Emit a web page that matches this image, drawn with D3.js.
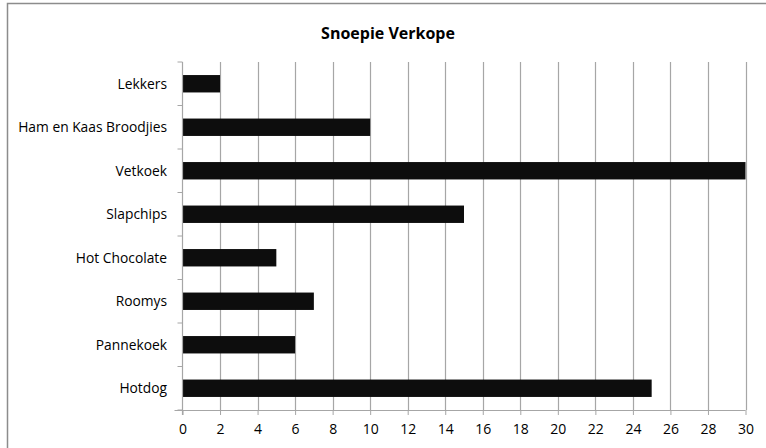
<!DOCTYPE html>
<html><head><meta charset="utf-8">
<script src="https://cdn.jsdelivr.net/npm/d3@7"></script>
<style>body{margin:0;background:#fff}svg{display:block}</style>
</head><body>
<svg id="c" width="766" height="448"></svg>
<script>
const categories = ["Lekkers","Ham en Kaas Broodjies","Vetkoek","Slapchips","Hot Chocolate","Roomys","Pannekoek","Hotdog"];
const values = [2,10,30,15,5,7,6,25];
const xTicks = [0,2,4,6,8,10,12,14,16,18,20,22,24,26,28,30];
const title = "Snoepie Verkope";

const svg = d3.select("#c");
const font = "'Open Sans', sans-serif";
const L = 182.5, R = 745.5, T = 62, B = 410;

svg.append("path").attr("d","M7.5,448 V3.5 H766").attr("fill","none").attr("stroke","#8c8c8c").attr("stroke-width",1.5);

svg.append("text").attr("x",388).attr("y",39).attr("text-anchor","middle")
  .attr("font-family",font).attr("font-weight","bold").attr("font-size",16).attr("fill","#000").text(title);

const x = d3.scaleLinear().domain([0,30]).range([L,R]);
const y = d3.scaleBand().domain(categories).range([T,B]).paddingInner(0.6).paddingOuter(0.3);

svg.append("g").selectAll("line").data(xTicks.filter(d=>d>0)).join("line")
  .attr("x1",d=>Math.round(x(d))+0.5).attr("x2",d=>Math.round(x(d))+0.5).attr("y1",T).attr("y2",B)
  .attr("stroke","#a6a6a6").attr("stroke-width",1.2);

svg.append("g").selectAll("rect").data(categories).join("rect")
  .attr("x",x(0)).attr("y",d=>y(d)).attr("width",(d,i)=>x(values[i])-x(0)).attr("height",y.bandwidth())
  .attr("fill","#0d0d0d");

const xa = svg.append("g").attr("transform",`translate(0,${B})`)
  .call(d3.axisBottom(x).tickValues(xTicks).tickSize(5).tickPadding(9).tickFormat(d3.format("d")));
xa.select(".domain").attr("stroke","#a6a6a6").attr("d",`M${L-8},0.5H${R}`);
xa.selectAll(".tick line").attr("stroke","#a6a6a6");
xa.selectAll("text").attr("font-family",font).attr("font-size",14).attr("fill","#000");

const bounds = d3.range(categories.length+1).map(i=>T+i*(B-T)/categories.length);
const ya = svg.append("g");
ya.append("line").attr("x1",L).attr("x2",L).attr("y1",T).attr("y2",B+5).attr("stroke","#a6a6a6").attr("stroke-width",1.2);
ya.selectAll("line.t").data(bounds).join("line").attr("class","t")
  .attr("x1",L-5).attr("x2",L).attr("y1",d=>d).attr("y2",d=>d).attr("stroke","#a6a6a6");
ya.selectAll("text").data(categories).join("text")
  .attr("x",167).attr("y",d=>y(d)+y.bandwidth()/2).attr("dy","0.35em").attr("text-anchor","end")
  .attr("font-family",font).attr("font-size",13.8).attr("fill","#000").text(d=>d);
</script>
</body></html>
